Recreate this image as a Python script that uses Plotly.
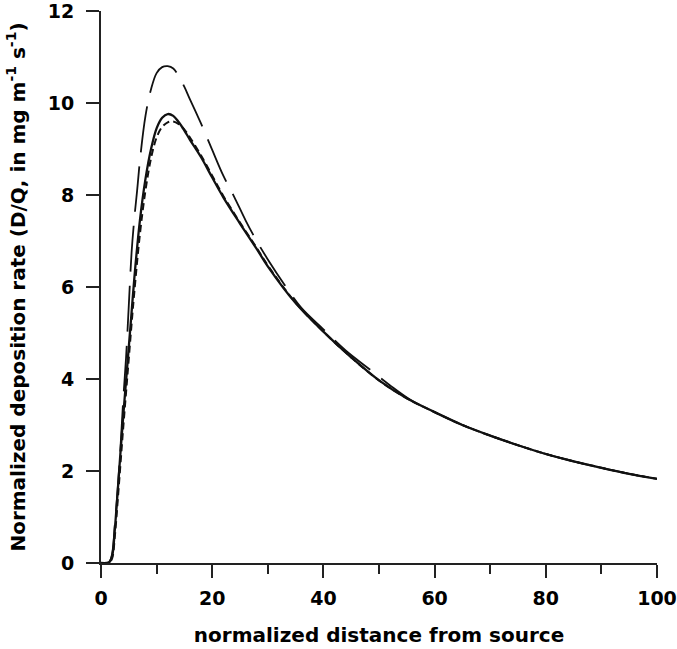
import plotly.graph_objects as go

# Solid curve
x_solid = [0, 1, 1.5, 2, 2.5, 3, 3.5, 4, 4.5, 5, 5.5, 6, 7, 8, 9, 10, 11, 12, 13, 14, 15, 16,
           18, 20, 22, 25, 28, 30, 35, 40, 45, 50, 55, 60, 65, 70, 75, 80, 85, 90, 95, 100]
y_solid = [0, 0, 0.02, 0.15, 0.75, 1.55, 2.4, 3.2, 3.95, 4.7, 5.45, 6.2, 7.45, 8.35, 9.0, 9.45,
           9.68, 9.76, 9.72, 9.58, 9.4, 9.2, 8.82, 8.38, 7.95, 7.38, 6.83, 6.45, 5.65, 5.03,
           4.47, 3.97, 3.58, 3.28, 3.0, 2.77, 2.56, 2.37, 2.21, 2.07, 1.94, 1.83]

# Short-dashed curve
x_short = [0, 1, 1.5, 2, 2.5, 3, 3.5, 4, 4.5, 5, 5.5, 6, 7, 8, 9, 10, 11, 12, 13, 14, 15, 16,
           18, 20, 22, 25, 28, 30, 35, 40, 45, 50, 55, 60, 65, 70, 75, 80, 85, 90, 95, 100]
y_short = [0, 0, 0.01, 0.1, 0.6, 1.35, 2.15, 2.95, 3.7, 4.45, 5.2, 5.9, 7.15, 8.1, 8.8, 9.25,
           9.48, 9.58, 9.6, 9.54, 9.42, 9.25, 8.86, 8.42, 7.98, 7.4, 6.85, 6.47, 5.66, 5.03,
           4.47, 3.97, 3.58, 3.28, 3.0, 2.77, 2.56, 2.37, 2.21, 2.07, 1.94, 1.83]

# Long-dashed curve
x_long = [0, 1, 1.5, 2, 2.5, 3, 3.5, 4, 4.5, 5, 5.5, 6, 6.5, 7, 8, 9, 10, 11, 12, 13, 14, 15,
          16, 17, 18, 20, 22, 24, 26, 28, 30, 33, 36, 40, 44, 48, 52, 56, 60, 65, 70, 75, 80,
          85, 90, 95, 100]
y_long = [0, 0, 0.02, 0.2, 0.85, 1.6, 2.5, 3.55, 4.45, 5.6, 6.75, 7.5, 8.1, 8.75, 9.72, 10.3,
          10.65, 10.78, 10.8, 10.75, 10.58, 10.35, 10.08, 9.82, 9.55, 8.98, 8.42, 7.95, 7.45,
          7.0, 6.6, 6.05, 5.55, 5.08, 4.62, 4.24, 3.86, 3.52, 3.28, 3.0, 2.77, 2.56, 2.37,
          2.21, 2.07, 1.94, 1.83]

x_ticks = [0, 20, 40, 60, 80, 100]
y_ticks = [0, 2, 4, 6, 8, 10, 12]

ink = "#111111"
fig = go.Figure()
fig.add_trace(go.Scatter(x=x_long, y=y_long, mode="lines", line_shape="spline",
                         line=dict(color=ink, width=1.8, dash="46px,14px"), showlegend=False))
fig.add_trace(go.Scatter(x=x_short, y=y_short, mode="lines", line_shape="spline",
                         line=dict(color=ink, width=2, dash="7px,4px"), showlegend=False))
fig.add_trace(go.Scatter(x=x_solid, y=y_solid, mode="lines", line_shape="spline",
                         line=dict(color=ink, width=2.3), showlegend=False))

tick_font = dict(family="DejaVu Sans, Liberation Sans, sans-serif", size=19, color="#000000",
                 weight="bold")
title_font = dict(family="DejaVu Sans, Liberation Sans, sans-serif", size=20, color="#000000",
                  weight="bold")
axis_common = dict(showline=True, linewidth=2, linecolor="#222222", showgrid=False,
                   zeroline=False, ticks="outside", ticklen=13, tickwidth=2,
                   tickcolor="#222222", tickfont=tick_font, automargin=False,
                   ticklabeloverflow="allow")

fig.update_layout(
    width=677, height=649,
    margin=dict(l=101, r=20, t=11, b=86),
    paper_bgcolor="white", plot_bgcolor="white",
    font=tick_font,
    xaxis=dict(range=[0, 100], tickmode="array", tickvals=x_ticks,
               ticktext=[str(v) for v in x_ticks], ticklabelstandoff=4,
               minor=dict(tickmode="linear", tick0=0, dtick=10, ticks="outside", ticklen=9,
                          tickwidth=2, tickcolor="#222222"),
               title=dict(text="normalized distance from source", font=title_font, standoff=20),
               **axis_common),
    yaxis=dict(range=[0, 12], tickmode="array", tickvals=y_ticks,
               ticktext=[str(v) for v in y_ticks], ticklabelstandoff=8,
               title=dict(text="Normalized deposition rate (D/Q, in mg m<sup>-1</sup> s<sup>-1</sup>)",
                          font=title_font, standoff=17),
               **axis_common),
)

fig.write_html("out.html", config={"displayModeBar": False},
               post_script="document.body.style.margin='0';document.body.style.overflow='hidden';")
